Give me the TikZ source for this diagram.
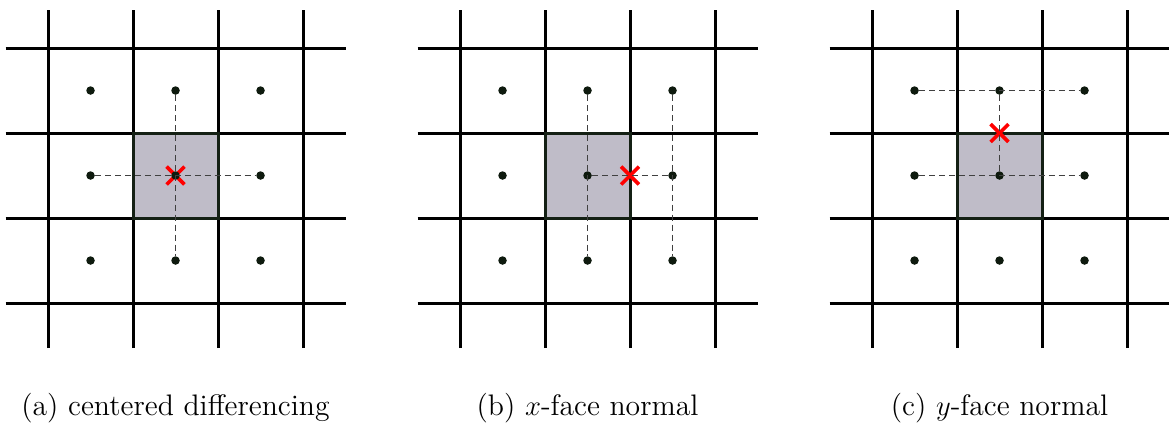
\documentclass[tikz,border=0pt]{standalone}
\usetikzlibrary{positioning}
\definecolor{cellfill}{HTML}{BFBCC8}
\definecolor{cellln}{HTML}{142014}
\definecolor{dotcol}{HTML}{0E1A0E}
\tikzset{
  gridln/.style={draw=black,line width=1.5pt},
  cell/.style={fill=cellfill,draw=cellln,line width=1.5pt},
  pt/.style={circle,fill=dotcol,inner sep=0pt,minimum size=0.15cm},
  link/.style={draw=black!75,line width=0.5pt,dash pattern=on 3pt off 2pt},
  hit/.style={draw=red,line width=1.8pt},
  captext/.style={font=\fontsize{14.9}{18}\selectfont},
}
% one panel: shaded cell, grid lines, cell-centre points
\newcommand{\cellgrid}{%
  \fill[cellfill] (1,1) rectangle (2,2);
  \foreach \i in {0,...,3} {
    \draw[gridln] (\i,-0.53) -- (\i,3.45);
    \draw[gridln] (-0.5,\i) -- (3.5,\i);
  }
  \draw[cell,fill=none] (1,1) rectangle (2,2);
}
\newcommand{\cellpts}{%
  \foreach \i in {1,2,3}
    \foreach \j in {1,2,3}
      \node[pt] (\i-\j) at (\i-0.5,\j-0.5) {};
}
\newcommand{\hitmark}[1]{%
  \coordinate (hx) at #1;
  \draw[hit] (hx) ++(-0.105,-0.105) -- ++(0.21,0.21);
  \draw[hit] (hx) ++(-0.105,0.105) -- ++(0.21,-0.21);
}

\begin{document}
\begin{tikzpicture}[x=1.5cm,y=1.5cm]
\useasboundingbox (-0.565,-1.412) rectangle (13.188,3.565);

% (a) centered differencing
\begin{scope}[name prefix=a-]
  \cellgrid
  \hitmark{(1.5,1.5)}
  \cellpts
  \draw[link] (a-2-3) -- (a-2-1);
  \draw[link] (a-1-2) -- (a-3-2);
  \node[captext] (capa) at (1.5,-1.24) {(a) centered differencing};
\end{scope}

% (b) x-face normal
\begin{scope}[xshift=4.847*1.5cm,name prefix=b-]
  \cellgrid
  \hitmark{(2,1.5)}
  \cellpts
  \draw[link] (b-2-3) -- (b-2-1);
  \draw[link] (b-3-3) -- (b-3-1);
  \draw[link] (b-2-2) -- (b-3-2);
  \node[captext] (capb) at (1.5,-1.24) {(b) $x$-face normal};
\end{scope}

% (c) y-face normal
\begin{scope}[xshift=9.694*1.5cm,name prefix=c-]
  \cellgrid
  \hitmark{(1.5,2)}
  \cellpts
  \draw[link] (c-1-3) -- (c-3-3);
  \draw[link] (c-1-2) -- (c-3-2);
  \draw[link] (c-2-3) -- (c-2-2);
  \node[captext] (capc) at (1.5,-1.24) {(c) $y$-face normal};
\end{scope}
\end{tikzpicture}
\end{document}
